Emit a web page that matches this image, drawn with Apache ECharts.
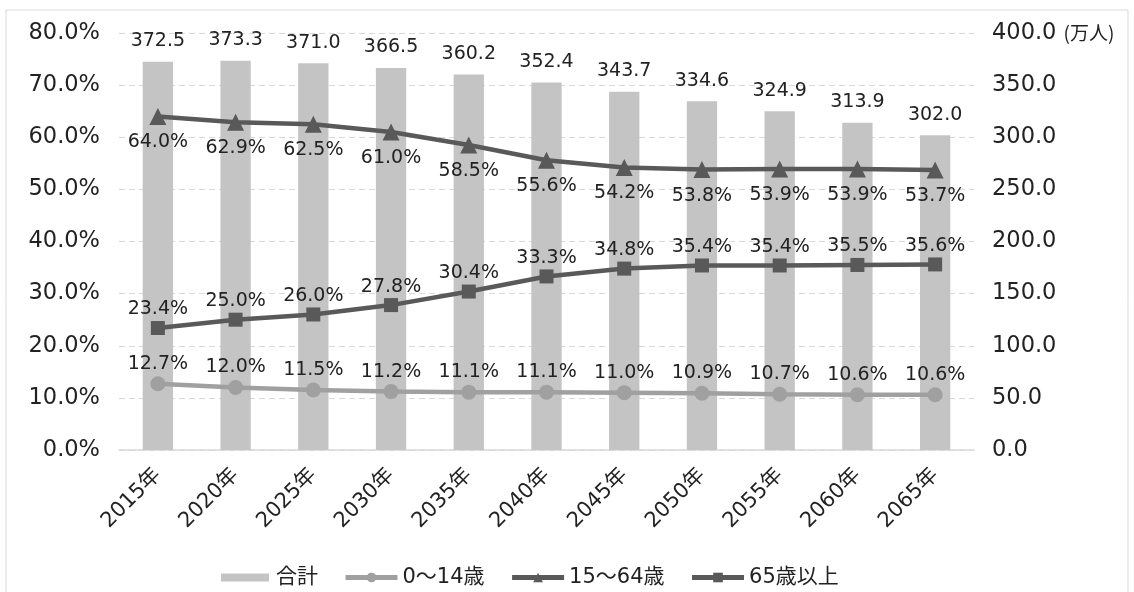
<!DOCTYPE html>
<html><head><meta charset="utf-8">
<script src="https://cdn.jsdelivr.net/npm/echarts@6/dist/echarts.min.js"></script>
<style>html,body{margin:0;padding:0;background:#fff}#c{width:1134px;height:592px}</style>
</head><body><div id="c"></div>
<script>
const categories = ['2015年','2020年','2025年','2030年','2035年','2040年','2045年','2050年','2055年','2060年','2065年'];
const total = [372.5,373.3,371.0,366.5,360.2,352.4,343.7,334.6,324.9,313.9,302.0];
const age0_14 = [12.7,12.0,11.5,11.2,11.1,11.1,11.0,10.9,10.7,10.6,10.6];
const age15_64 = [64.0,62.9,62.5,61.0,58.5,55.6,54.2,53.8,53.9,53.9,53.7];
const age65 = [23.4,25.0,26.0,27.8,30.4,33.3,34.8,35.4,35.4,35.5,35.6];

const FONT = '"DejaVu Sans", "Noto Sans CJK JP", sans-serif';
const CJK = '"Noto Sans CJK JP", sans-serif';
const chart = echarts.init(document.getElementById('c'));
const pctLabel = (pos, d) => ({show:true, position:pos, distance:d, color:'#222', fontSize:19, fontFamily:FONT, formatter:p=>p.value.toFixed(1)+'%'});
chart.setOption({
  animation:false,
  textStyle:{fontFamily:FONT},
  graphic:[{type:'rect', shape:{x:6,y:10,width:1122,height:590}, style:{fill:'none', stroke:'#d9d9d9', lineWidth:1}}],
  grid:{left:119, right:160, top:33, bottom:142},
  legend:{top:562, left:212, itemGap:25, itemWidth:52, itemHeight:12,
    lineStyle:{width:5},
    textStyle:{fontSize:21, color:'#222', fontFamily:FONT},
    data:[{name:'合計', icon:'rect', itemStyle:{borderColor:'#fff', borderWidth:4}}, '0～14歳', '15～64歳', '65歳以上']},
  xAxis:{type:'category', data:categories,
    axisLine:{lineStyle:{color:'#d9d9d9', width:1.5}}, axisTick:{show:false},
    axisLabel:{rotate:45, fontSize:21, color:'#222', margin:22, fontFamily:FONT}},
  yAxis:[
    {type:'value', min:0, max:80, interval:10, position:'left',
     axisLabel:{fontSize:22.5, color:'#222', margin:19, formatter:v=>v.toFixed(1)+'%', fontFamily:FONT},
     splitLine:{lineStyle:{color:'#d9d9d9', type:[6,4]}}, axisLine:{show:false}, axisTick:{show:false}},
    {type:'value', min:0, max:400, interval:50, position:'right',
     axisLabel:{fontSize:22.5, color:'#222', margin:18, fontFamily:FONT,
       formatter:v=> v===400 ? '400.0 {u|(万人)}' : v.toFixed(1),
       rich:{u:{fontSize:19, color:'#222', fontFamily:CJK}}},
     splitLine:{show:false}, axisLine:{show:false}, axisTick:{show:false}}
  ],
  series:[
    {name:'合計', type:'bar', yAxisIndex:1, data:total, barWidth:'39%',
     itemStyle:{color:'#c4c4c4'},
     label:{show:true, position:'top', distance:11, fontSize:19, color:'#222', fontFamily:FONT, formatter:p=>p.value.toFixed(1)}},
    {name:'0～14歳', type:'line', yAxisIndex:0, data:age0_14, symbol:'circle', symbolSize:15,
     lineStyle:{color:'#a0a0a0', width:4.5}, itemStyle:{color:'#a0a0a0'},
     label:pctLabel('top', 3)},
    {name:'15～64歳', type:'line', yAxisIndex:0, data:age15_64, symbol:'triangle', symbolSize:17,
     lineStyle:{color:'#595959', width:4.5}, itemStyle:{color:'#595959'},
     label:pctLabel('bottom', 8)},
    {name:'65歳以上', type:'line', yAxisIndex:0, data:age65, symbol:'rect', symbolSize:14,
     lineStyle:{color:'#595959', width:4.5}, itemStyle:{color:'#595959'},
     label:pctLabel('top', 2)}
  ]
});
</script></body></html>
